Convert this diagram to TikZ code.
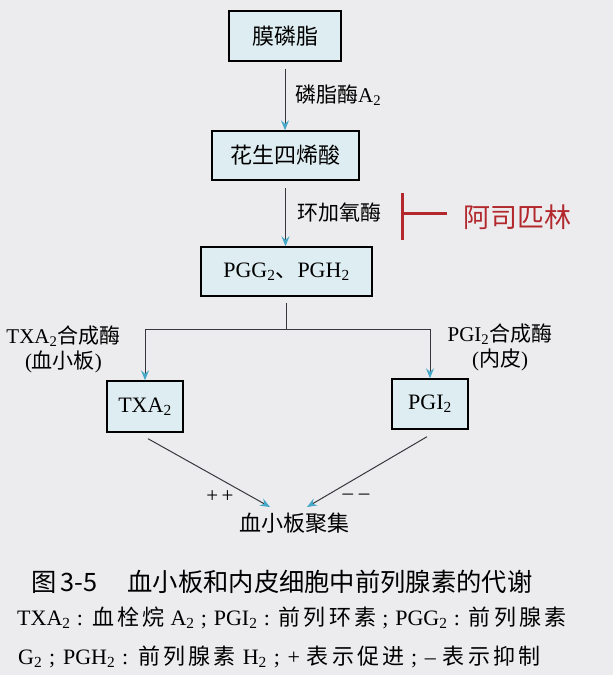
\documentclass[tikz,border=0pt]{standalone}
\usepackage{fontspec}
\setmainfont{Liberation Serif}
\newfontfamily\cjk{Noto Sans CJK SC}
\newfontfamily\cjkls[LetterSpace=14]{Noto Sans CJK SC}
\usetikzlibrary{arrows.meta}
\definecolor{bg}{RGB}{236,236,238}
\definecolor{boxfill}{RGB}{222,237,242}
\definecolor{tipc}{RGB}{70,168,200}
\definecolor{linec}{RGB}{55,55,60}
\definecolor{redc}{RGB}{178,40,45}
\begin{document}
\begin{tikzpicture}[x=1pt,y=-1pt,
  box/.style={draw=black, line width=1.4pt, fill=boxfill, inner sep=0pt, anchor=center,
              font=\fontsize{22}{26}\selectfont},
  conn/.style={draw=linec, line width=1pt, -{Stealth[length=10pt,width=8pt,inset=3.5pt,color=tipc]}},
  plain/.style={draw=linec, line width=1pt},
  lbl/.style={inner sep=0pt, font=\fontsize{21}{25}\selectfont},
  capt/.style={inner sep=0pt, anchor=west, font=\fontsize{22}{25}\selectfont},
  inhib/.style={draw=redc, line width=3pt},
]
\fill[bg] (0,0) rectangle (613,675);
\useasboundingbox (0,0) rectangle (613,675);

% boxes
\node[box, minimum width=112pt, minimum height=50pt] (b1) at (285,36) {\cjk 膜磷脂};
\node[box, minimum width=147pt, minimum height=49pt] (b2) at (285.5,155.5) {\cjk 花生四烯酸};
\node[box, minimum width=171pt, minimum height=49pt] (b3) at (286.5,271.5) {PGG\textsubscript{2}{\cjk 、}PGH\textsubscript{2}};
\node[box, minimum width=76pt, minimum height=51pt] (tx) at (145,406.5) {TXA\textsubscript{2}};
\node[box, minimum width=76pt, minimum height=50pt] (pg) at (430,404) {PGI\textsubscript{2}};
\node[lbl, font=\fontsize{22}{26}\selectfont] (agg) at (294,523) {\cjk 血小板聚集};

% labels
\node[lbl, anchor=west] (l1) at (295,95) {{\cjk 磷脂酶}A\textsubscript{2}};
\node[lbl, anchor=west] (l2) at (297,213) {\cjk 环加氧酶};
\node[inner sep=0pt, anchor=west, text=redc, font=\fontsize{27}{30}\selectfont] (asp) at (463,217) {\cjk 阿司匹林};
\node[lbl, align=center] (lt) at (63.5,349.5) {TXA\textsubscript{2}{\cjk 合成酶}\\({\cjk 血小板})};
\node[lbl, align=center] (rt) at (500,347.5) {PGI\textsubscript{2}{\cjk 合成酶}\\({\cjk 内皮})};
\node[lbl] (pp) at (220,497) {+\,+};
\node[lbl] (mm) at (356,497) {\textendash\;\textendash};

% vertical arrows
\draw[conn] ([yshift=-7pt]b1.south) -- (b1.south |- b2.north);
\draw[conn] ([yshift=-7pt]b2.south) -- (b2.south |- b3.north);

% branch
\coordinate (j) at (286.5,329);
\draw[plain] ([yshift=-6pt]b3.south) -- (j);
\draw[conn] (j) -| (tx.north);
\draw[conn] (j) -| (pg.north);

% diagonals
\coordinate (tl) at ([shift={(3pt,-6pt)}]tx.south);
\coordinate (tr) at ([shift={(-3pt,-7pt)}]pg.south);
\coordinate (al) at ([shift={(-24pt,16pt)}]agg.center);
\coordinate (ar) at ([shift={(13pt,16pt)}]agg.center);
\draw[conn] (tl) -- (al);
\draw[conn] (tr) -- (ar);

% inhibition
\coordinate (ih) at ([xshift=-16pt,yshift=4pt]asp.west);
\coordinate (ib) at ([xshift=-45pt]ih);
\draw[inhib] (ih) -- (ib);
\draw[inhib] ([yshift=20pt]ib) -- ([yshift=-27pt]ib);

% caption
\node[capt, font=\fontsize{25.3}{25}\selectfont\cjk] (c1) at (31,582) {图\,3-5\hspace{30pt}血小板和内皮细胞中前列腺素的代谢};
\node[capt] (c2) at (17,618) {\makebox[549pt][s]{TXA\textsubscript{2} : {\cjkls 血栓烷} A\textsubscript{2} ; PGI\textsubscript{2} : {\cjkls 前列环素} ; PGG\textsubscript{2} : {\cjkls 前列腺素}}};
\node[capt] (c3) at (18,657) {\makebox[522pt][s]{G\textsubscript{2} ; PGH\textsubscript{2} : {\cjkls 前列腺素} H\textsubscript{2} ; + {\cjkls 表示促进} ; \textendash\ {\cjkls 表示抑制}}};
\end{tikzpicture}
\end{document}
